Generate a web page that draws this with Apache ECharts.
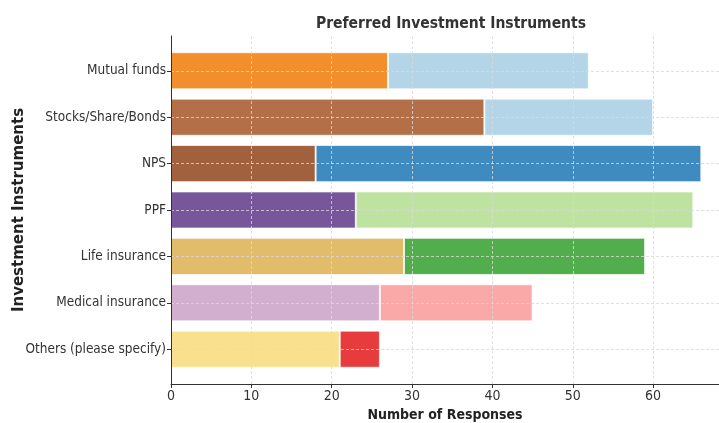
<!DOCTYPE html>
<html>
<head>
<meta charset="utf-8">
<script src="https://cdn.jsdelivr.net/npm/echarts@6/dist/echarts.min.js"></script>
<style>
  html, body { margin: 0; padding: 0; background: #fff; }
  #chart { width: 719px; height: 423px; }
</style>
</head>
<body>
<div id="chart"></div>
<script>
const categories = [
  "Mutual funds",
  "Stocks/Share/Bonds",
  "NPS",
  "PPF",
  "Life insurance",
  "Medical insurance",
  "Others (please specify)"
];
const firstPart = [27, 39, 18, 23, 29, 26, 21];
const secondPart = [25, 21, 48, 42, 30, 19, 5];
const firstColors = ["#f28e2b", "#b36f48", "#a2613e", "#775799", "#e1bc6b", "#d2aecf", "#f9e08e"];
const secondColors = ["#b4d5e8", "#b4d5e8", "#3f8bbf", "#bee3a0", "#52ae4c", "#fba8a8", "#e83b3d"];
const xTicks = [0, 10, 20, 30, 40, 50, 60];

const FONT = "'DejaVu Sans Condensed', 'Liberation Sans Narrow', sans-serif";
const TEXT = "#333";
const X_MAX = 68.2;

const chart = echarts.init(document.getElementById("chart"), null, { renderer: "canvas" });

const barStyle = (colors) => (v, i) => ({
  value: v,
  itemStyle: { color: colors[i], borderColor: "rgba(255,255,255,0.7)", borderWidth: 1 }
});

chart.setOption({
  animation: false,
  backgroundColor: "#fff",
  title: {
    text: "Preferred Investment Instruments",
    left: 446,
    top: 11,
    textAlign: "center",
    textStyle: { fontFamily: FONT, fontSize: 15.5, fontWeight: "bold", color: TEXT }
  },
  grid: [
    // outer frame: axis lines, x ticks, vertical grid
    { left: 171, right: 0, top: 36, bottom: 39, outerBoundsMode: "none" },
    // inner: bars and categories
    { left: 171, right: 0, top: 47.6, bottom: 50.6, outerBoundsMode: "none" }
  ],
  xAxis: [
    {
      gridIndex: 0,
      type: "value",
      min: 0,
      max: X_MAX,
      interval: 10,
      z: 10,
      name: "Number of Responses",
      nameLocation: "middle",
      nameGap: 23,
      nameTextStyle: { fontFamily: FONT, fontSize: 14, fontWeight: "bold", color: "#222" },
      axisLine: { show: true, lineStyle: { color: "#333", width: 1 } },
      axisTick: { show: true, length: 4, lineStyle: { color: "#333" } },
      axisLabel: {
        fontFamily: FONT, fontSize: 14, color: TEXT, margin: 5,
        showMaxLabel: false,
        formatter: (v) => (xTicks.includes(v) ? String(v) : "")
      },
      splitLine: { show: true, lineStyle: { color: "#d9d9d9", type: [3, 2], width: 0.8 } }
    },
    {
      gridIndex: 1,
      type: "value",
      min: 0,
      max: X_MAX,
      show: false
    }
  ],
  yAxis: [
    {
      gridIndex: 0,
      type: "value",
      min: 0,
      max: 1,
      z: 10,
      axisLine: { show: true, lineStyle: { color: "#333", width: 1 } },
      axisTick: { show: false },
      axisLabel: { show: false },
      splitLine: { show: false },
      name: "Investment Instruments",
      nameLocation: "middle",
      nameGap: 144,
      nameRotate: 90,
      nameTextStyle: { fontFamily: "'DejaVu Sans', sans-serif", fontSize: 15, fontWeight: "bold", color: "#222" }
    },
    {
      gridIndex: 1,
      type: "category",
      data: categories,
      inverse: true,
      z: 10,
      axisLine: { show: false },
      axisTick: { show: true, alignWithLabel: true, length: 4, lineStyle: { color: "#333" } },
      axisLabel: { fontFamily: FONT, fontSize: 13.5, color: TEXT, margin: 5 },
      splitLine: { show: true, alignWithLabel: true, lineStyle: { color: "#d9d9d9", type: [3, 2], width: 0.8 } }
    }
  ],
  series: [
    {
      type: "bar",
      xAxisIndex: 1,
      yAxisIndex: 1,
      stack: "total",
      barWidth: "80%",
      z: 2,
      data: firstPart.map(barStyle(firstColors))
    },
    {
      type: "bar",
      xAxisIndex: 1,
      yAxisIndex: 1,
      stack: "total",
      barWidth: "80%",
      z: 2,
      data: secondPart.map(barStyle(secondColors))
    }
  ]
});
</script>
</body>
</html>
